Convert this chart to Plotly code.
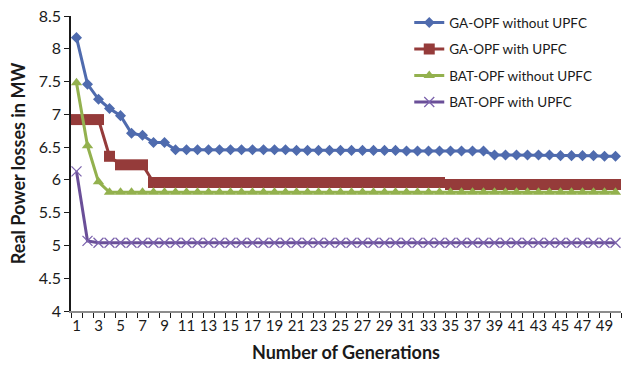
import plotly.graph_objects as go

generations = list(range(1, 51))

ga_without_upfc = ([8.17, 7.46, 7.23, 7.09, 6.98, 6.71, 6.68, 6.57, 6.57]
                   + [6.46] * 11 + [6.45] * 10 + [6.44] * 8
                   + [6.38] * 6 + [6.37] * 4 + [6.36] * 2)
ga_with_upfc = [6.92, 6.92, 6.92, 6.36, 6.23, 6.23, 6.23] + [5.96] * 27 + [5.93] * 16
bat_without_upfc = [7.48, 6.52, 5.97] + [5.81] * 47
bat_with_upfc = [6.13, 5.07] + [5.04] * 48

x_tick_vals = list(range(1, 51, 2))
x_tick_text = [str(v) for v in x_tick_vals]
y_tick_vals = [4, 4.5, 5, 5.5, 6, 6.5, 7, 7.5, 8, 8.5]
y_tick_text = ["4", "4.5", "5", "5.5", "6", "6.5", "7", "7.5", "8", "8.5"]

FONT = "Lato, 'Open Sans', sans-serif"

series = [
    ("GA-OPF without UPFC", ga_without_upfc, "#4F6BAE", dict(symbol="diamond", size=8.5)),
    ("GA-OPF with UPFC", ga_with_upfc, "#953B3A", dict(symbol="square", size=11)),
    ("BAT-OPF without UPFC", bat_without_upfc, "#93B14E", dict(symbol="triangle-up", size=10)),
    ("BAT-OPF with UPFC", bat_with_upfc, "#6A4F98",
     dict(symbol="x-thin", size=10, line=dict(width=1.3, color="#7B62AC"))),
]

fig = go.Figure()
for i, (name, vals, color, marker) in enumerate(series):
    m = dict(color=color)
    m.update(marker)
    fig.add_trace(go.Scatter(
        x=generations, y=vals, name=name, mode="lines+markers",
        line=dict(color=color, width=3), marker=m, legendgroup=f"g{i}",
    ))

boundaries = [g - 0.5 for g in generations] + [generations[-1] + 0.5]

fig.update_layout(
    width=622, height=367,
    margin=dict(l=71, r=1, t=16, b=56),
    paper_bgcolor="white", plot_bgcolor="white",
    font=dict(family=FONT, color="#1a1a1a"),
    showlegend=True,
    legend=dict(
        x=0.615, y=1.03, xanchor="left", yanchor="top",
        font=dict(family=FONT, size=13.5, color="#1a1a1a"),
        bgcolor="rgba(0,0,0,0)", tracegroupgap=6, itemwidth=30,
    ),
    xaxis=dict(
        range=[0.5, 50.5], tickmode="array", tickvals=x_tick_vals, ticktext=x_tick_text,
        ticks="", showgrid=False, zeroline=False,
        showline=True, linecolor="#8c8c8c", linewidth=1.5,
        tickfont=dict(family=FONT, size=15, color="#1a1a1a"),
        minor=dict(tickmode="array", tickvals=boundaries, ticks="outside",
                   ticklen=5, tickcolor="#1a1a1a", tickwidth=1, showgrid=False),
        title=dict(text="<b>Number of Generations</b>",
                   font=dict(family=FONT, size=18, color="#1a1a1a"), standoff=14),
    ),
    yaxis=dict(
        range=[4, 8.5], tickmode="array", tickvals=y_tick_vals, ticktext=y_tick_text,
        ticks="outside", ticklen=5, tickcolor="#1a1a1a", tickwidth=1,
        showgrid=False, zeroline=False,
        showline=True, linecolor="#1a1a1a", linewidth=1.5,
        tickfont=dict(family=FONT, size=16, color="#1a1a1a"),
        title=dict(text="<b>Real Power losses in MW</b>",
                   font=dict(family=FONT, size=18, color="#1a1a1a"), standoff=8),
    ),
)

fig.write_html("out.html")
